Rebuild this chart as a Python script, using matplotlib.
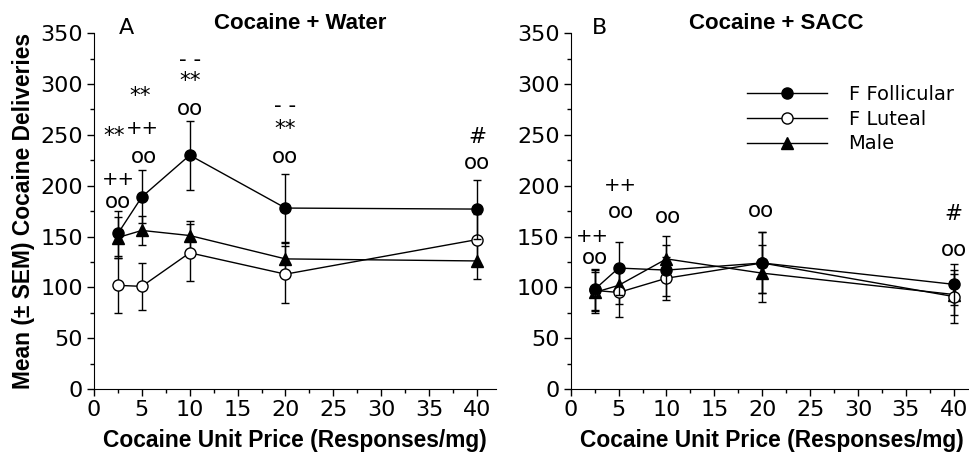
import matplotlib
matplotlib.use("Agg")
import matplotlib.pyplot as plt
from matplotlib.ticker import MultipleLocator

price = [2.5, 5, 10, 20, 40]

# Panel A: Cocaine + Water
a_foll = [153, 189, 230, 178, 177]
a_foll_err = [22, 26, 34, 33, 29]
a_lut = [102, 101, 134, 113, 147]
a_lut_err = [27, 23, 28, 28, 25]
a_male = [149, 156, 151, 128, 126]
a_male_err = [20, 14, 14, 16, 18]

# Panel B: Cocaine + SACC
b_foll = [98, 119, 117, 124, 103]
b_foll_err = [20, 26, 25, 30, 20]
b_lut = [97, 95, 109, 124, 91]
b_lut_err = [20, 24, 21, 30, 26]
b_male = [95, 102, 128, 114, 93]
b_male_err = [20, 18, 23, 28, 20]

# annotations: (x, y, text)
a_notes = [(2.5, 184, "oo"), (2.5, 206, "++"), (2.1, 249, "**"),
           (5.2, 228, "oo"), (5.1, 256, "++"), (4.8, 288, "**"),
           (10, 275, "oo"), (10, 303, "**"), (10, 324, "--"),
           (20, 228, "oo"), (20, 256, "**"), (20, 278, "--"),
           (40, 222, "oo"), (40, 248, "#")]
b_notes = [(2.5, 129, "oo"), (2.3, 150, "++"),
           (5.2, 174, "oo"), (5.2, 200, "++"),
           (10.2, 169, "oo"), (19.9, 175, "oo"),
           (40, 137, "oo"), (40, 172, "#")]

labels = ["F Follicular", "F Luteal", "Male"]

fig = plt.figure(figsize=(9.69, 4.54), dpi=100)
axA = fig.add_axes([0.097, 0.143, 0.415, 0.784])
axB = fig.add_axes([0.589, 0.143, 0.415, 0.784])

BOLD = "Liberation Sans"

def draw(ax, foll, fe, lut, le, male, me, notes, title, letter, lx):
    kw = dict(color="black", lw=1.0, elinewidth=1.0, capsize=3, capthick=1.0)
    ax.errorbar(price, male, yerr=me, marker="^", ms=8, mfc="black", mec="black",
                label=labels[2], zorder=3, clip_on=False, **kw)
    ax.errorbar(price, lut, yerr=le, marker="o", ms=8, mfc="white", mec="black",
                label=labels[1], zorder=4, clip_on=False, **kw)
    ax.errorbar(price, foll, yerr=fe, marker="o", ms=8, mfc="black", mec="black",
                label=labels[0], zorder=5, clip_on=False, **kw)
    ax.set_xlim(0, 42)
    ax.set_ylim(0, 350)
    ax.spines["top"].set_visible(False)
    ax.spines["right"].set_visible(False)
    ax.xaxis.set_major_locator(MultipleLocator(5))
    ax.xaxis.set_minor_locator(MultipleLocator(2.5))
    ax.yaxis.set_major_locator(MultipleLocator(50))
    ax.yaxis.set_minor_locator(MultipleLocator(25))
    ax.tick_params(which="major", length=5, width=1, labelsize=16, direction="out",
                   pad=3)
    ax.tick_params(which="minor", length=3, width=1, direction="out")
    ax.set_xlabel("Cocaine Unit Price (Responses/mg)", fontsize=16.4,
                  fontweight="bold", family=BOLD, labelpad=6)
    ax.text(21.5, 359, title, fontsize=16, fontweight="bold", family=BOLD,
            ha="center", va="center")
    ax.text(lx, 355, letter, fontsize=16, ha="center", va="center")
    for x, y, t in notes:
        if t == "++":
            ax.text(x, y, "++", fontsize=14, ha="center", va="center")
        elif t == "--":
            ax.text(x, y, "- -", fontsize=15.5, ha="center", va="center")
        else:
            ax.text(x, y, t, fontsize=15.5, ha="center", va="center")

draw(axA, a_foll, a_foll_err, a_lut, a_lut_err, a_male, a_male_err, a_notes,
     "Cocaine + Water", "A", 3.4)
draw(axB, b_foll, b_foll_err, b_lut, b_lut_err, b_male, b_male_err, b_notes,
     "Cocaine + SACC", "B", 3.0)

axA.set_ylabel("Mean (± SEM) Cocaine Deliveries", fontsize=16.4, fontweight="bold",
               family=BOLD, labelpad=4)

h, l = axB.get_legend_handles_labels()
order = [2, 1, 0]
hh = [h[i][0] for i in order]
leg = axB.legend(hh, [l[i] for i in order], loc="upper left",
                 bbox_to_anchor=(0.42, 0.877), frameon=False, fontsize=14,
                 handlelength=4.1, handletextpad=1.1, labelspacing=0.3,
                 borderaxespad=0)

fig.savefig("out.png", dpi=100)
